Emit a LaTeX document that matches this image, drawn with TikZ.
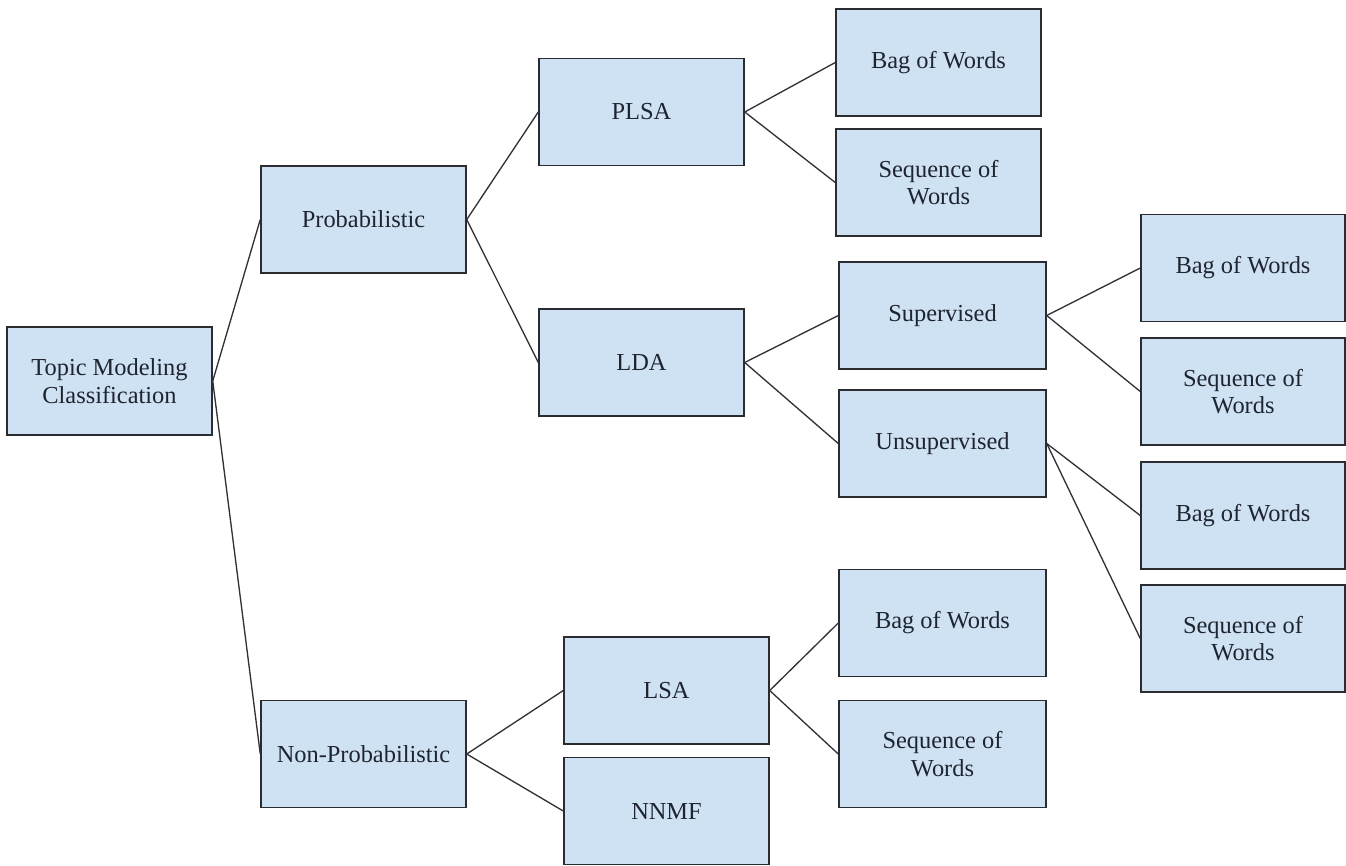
\documentclass[tikz,border=0pt]{standalone}
\usepackage{fontspec}
\setmainfont{Liberation Serif}
\definecolor{boxfill}{HTML}{CFE2F3}
\definecolor{boxdraw}{HTML}{2A2C30}
\definecolor{txt}{HTML}{1E2430}
\definecolor{edge}{HTML}{303236}
\begin{document}
\begin{tikzpicture}[x=0.75pt,y=-0.75pt,
  box/.style={draw=boxdraw, fill=boxfill, line width=1.1pt, inner sep=0pt,
    minimum height=80.25pt, align=center, text=txt,
    font=\fontsize{18.3}{20.5}\selectfont},
  wA/.style={box, minimum width=153.75pt},
  wB/.style={box, minimum width=155.25pt},
  wC/.style={box, minimum width=153pt},
  link/.style={draw=edge, line width=1pt}]
\useasboundingbox (0,0) rectangle (1346,865);
% level 0
\node[wA, minimum height=81pt] (top) at (109.5,381) {Topic Modeling\\Classification};
% level 1
\node[wA] (prob) at (363.5,219.5) {Probabilistic};
\node[wA] (nonprob) at (363.5,754) {Non-Probabilistic};
% level 2
\node[wA] (plsa) at (641.5,112) {PLSA};
\node[wA] (lda) at (641.5,362.5) {LDA};
\node[wA] (lsa) at (666.5,690.5) {LSA};
\node[wA] (nnmf) at (666.5,811) {NNMF};
% level 3
\node[wA] (bow1) at (938.5,62.5) {Bag of Words};
\node[wA] (sow1) at (938.5,182.5) {Sequence of\\Words};
\node[wB] (sup) at (942.5,315.5) {Supervised};
\node[wB] (unsup) at (942.5,443.5) {Unsupervised};
\node[wB] (bow4) at (942.5,623) {Bag of Words};
\node[wB] (sow4) at (942.5,754) {Sequence of\\Words};
% level 4
\node[wC] (bow2) at (1243,268) {Bag of Words};
\node[wC] (sow2) at (1243,391.5) {Sequence of\\Words};
\node[wC] (bow3) at (1243,515.5) {Bag of Words};
\node[wC] (sow3) at (1243,638.5) {Sequence of\\Words};
% connectors
\draw[link] (top.east) -- (prob.west);
\draw[link] (top.east) -- (nonprob.west);
\draw[link] (prob.east) -- (plsa.west);
\draw[link] (prob.east) -- (lda.west);
\draw[link] (nonprob.east) -- (lsa.west);
\draw[link] (nonprob.east) -- (nnmf.west);
\draw[link] (plsa.east) -- (bow1.west);
\draw[link] (plsa.east) -- (sow1.west);
\draw[link] (lda.east) -- (sup.west);
\draw[link] (lda.east) -- (unsup.west);
\draw[link] (lsa.east) -- (bow4.west);
\draw[link] (lsa.east) -- (sow4.west);
\draw[link] (sup.east) -- (bow2.west);
\draw[link] (sup.east) -- (sow2.west);
\draw[link] (unsup.east) -- (bow3.west);
\draw[link] (unsup.east) -- (sow3.west);
\end{tikzpicture}
\end{document}
